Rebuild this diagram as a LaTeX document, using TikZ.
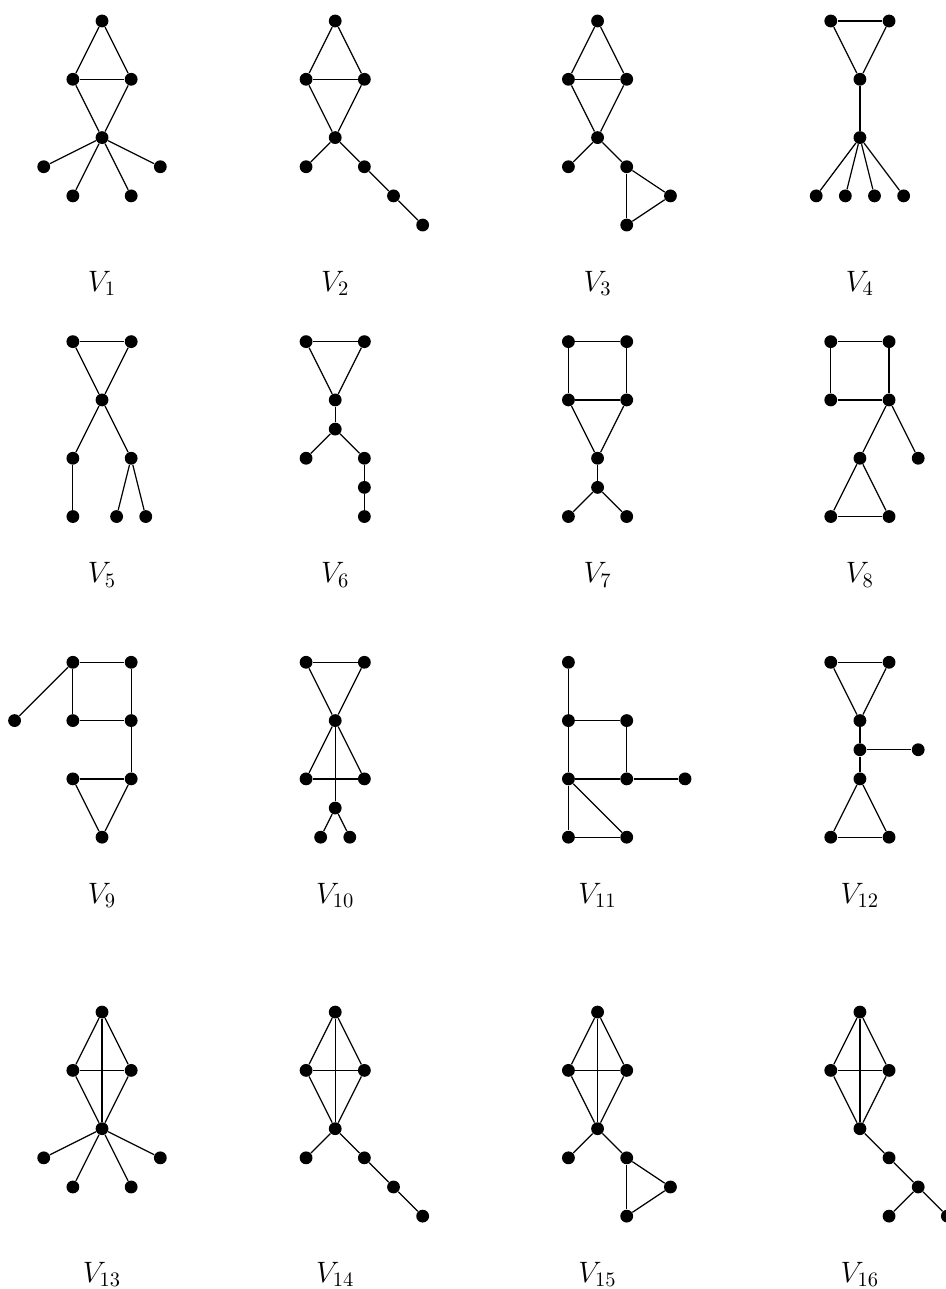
\documentclass[tikz,border=0pt]{standalone}
\usepackage{amssymb}

\begin{document}
\begin{tikzpicture}[x=0.5cm, y=0.5cm, every node/.style={circle, fill, inner sep=0pt, minimum size=2.2mm}, nome/.style={fill=none, font=\Large}]
	\useasboundingbox (0,0) rectangle (32.45,-44.22);

	% V1
	\begin{scope}[shift={(3.5,-0.72)}]
		\node (a1) at (0, 0) {};
		\node (a2) at (-1, -2) {};
		\node (a3) at (1, -2) {};
		\node (a4) at (0, -4) {};
		\node (a5) at (-2, -5) {};
		\node (a6) at (2, -5) {};
		\node (a7) at (-1, -6) {};
		\node (a8) at (1, -6) {};
		\node[nome] (v1) at (0, -9) {$V_1$};
		% Archi
		\draw[semithick] (a1) -- (a2);
		\draw[semithick] (a1) -- (a3);
		\draw[semithick] (a2) -- (a3);
		\draw[semithick] (a2) -- (a4);
		\draw[semithick] (a3) -- (a4);
		\draw[semithick] (a4) -- (a5);
		\draw[semithick] (a4) -- (a6);
		\draw[semithick] (a4) -- (a7);
		\draw[semithick] (a4) -- (a8);
	\end{scope}

	% V2
	\begin{scope}[shift={(11.5,-0.72)}]
		\node (b1) at (0, 0) {};
		\node (b2) at (-1, -2) {};
		\node (b3) at (1, -2) {};
		\node (b4) at (0, -4) {};
		\node (b5) at (-1, -5) {};
		\node (b6) at (1, -5) {};
		\node (b7) at (2, -6) {};
		\node (b8) at (3, -7) {};
		\node[nome] (v2) at (0, -9) {$V_2$};
		% Archi
		\draw[semithick] (b1) -- (b2);
		\draw[semithick] (b1) -- (b3);
		\draw[semithick] (b2) -- (b3);
		\draw[semithick] (b2) -- (b4);
		\draw[semithick] (b3) -- (b4);
		\draw[semithick] (b4) -- (b5);
		\draw[semithick] (b4) -- (b6);
		\draw[semithick] (b6) -- (b7);
		\draw[semithick] (b7) -- (b8);
	\end{scope}

	% V3
	\begin{scope}[shift={(20.5,-0.72)}]
		\node (c1) at (0, 0) {};
		\node (c2) at (-1, -2) {};
		\node (c3) at (1, -2) {};
		\node (c4) at (0, -4) {};
		\node (c5) at (-1, -5) {};
		\node (c6) at (1, -5) {};
		\node (c7) at (2.5, -6) {};
		\node (c8) at (1, -7) {};
		\node[nome] (v3) at (0, -9) {$V_3$};
		% Archi
		\draw[semithick] (c1) -- (c2);
		\draw[semithick] (c1) -- (c3);
		\draw[semithick] (c2) -- (c3);
		\draw[semithick] (c2) -- (c4);
		\draw[semithick] (c3) -- (c4);
		\draw[semithick] (c4) -- (c5);
		\draw[semithick] (c4) -- (c6);
		\draw[semithick] (c6) -- (c7);
		\draw[semithick] (c7) -- (c8);
		\draw[semithick] (c6) -- (c8);
	\end{scope}

	% V4
	\begin{scope}[shift={(29.5,-0.72)}]
		\node (d1) at (-1, 0) {};
		\node (d2) at (1, 0) {};
		\node (d3) at (0, -2) {};
		\node (d4) at (0, -4) {};
		\node (d5) at (-1.5, -6) {};
		\node (d6) at (-0.5, -6) {};
		\node (d7) at (0.5, -6) {};
		\node (d8) at (1.5, -6) {};
		\node[nome] (v4) at (0, -9) {$V_4$};
		% Archi
		\draw[semithick] (d1) -- (d2);
		\draw[semithick] (d1) -- (d3);
		\draw[semithick] (d2) -- (d3);
		\draw[semithick] (d3) -- (d4);
		\draw[semithick] (d4) -- (d5);
		\draw[semithick] (d4) -- (d6);
		\draw[semithick] (d4) -- (d7);
		\draw[semithick] (d4) -- (d8);
	\end{scope}

	% V5
	\begin{scope}[shift={(3.5,-11.72)}]
		\node (e1) at (-1, 0) {};
		\node (e2) at (1, 0) {};
		\node (e3) at (0, -2) {};
		\node (e4) at (-1, -4) {};
		\node (e5) at (1, -4) {};
		\node (e6) at (-1, -6) {};
		\node (e7) at (0.5, -6) {};
		\node (e8) at (1.5, -6) {};
		\node[nome] (v5) at (0, -8) {$V_5$};
		% Archi
		\draw[semithick] (e1) -- (e2);
		\draw[semithick] (e1) -- (e3);
		\draw[semithick] (e2) -- (e3);
		\draw[semithick] (e3) -- (e4);
		\draw[semithick] (e3) -- (e5);
		\draw[semithick] (e4) -- (e6);
		\draw[semithick] (e5) -- (e7);
		\draw[semithick] (e5) -- (e8);
	\end{scope}

	% V6
	\begin{scope}[shift={(11.5,-11.72)}]
		\node (f1) at (-1, 0) {};
		\node (f2) at (1, 0) {};
		\node (f3) at (0, -2) {};
		\node (f4) at (0, -3) {};
		\node (f5) at (-1, -4) {};
		\node (f6) at (1, -4) {};
		\node (f7) at (1, -5) {};
		\node (f8) at (1, -6) {};
		\node[nome] (v6) at (0, -8) {$V_6$};
		% Archi
		\draw[semithick] (f1) -- (f2);
		\draw[semithick] (f1) -- (f3);
		\draw[semithick] (f2) -- (f3);
		\draw[semithick] (f3) -- (f4);
		\draw[semithick] (f4) -- (f5);
		\draw[semithick] (f4) -- (f6);
		\draw[semithick] (f6) -- (f7);
		\draw[semithick] (f7) -- (f8);
	\end{scope}

	% V7
	\begin{scope}[shift={(20.5,-11.72)}]
		\node (g1) at (-1, 0) {};
		\node (g2) at (1, 0) {};
		\node (g3) at (-1, -2) {};
		\node (g4) at (1, -2) {};
		\node (g5) at (0, -4) {};
		\node (g6) at (0, -5) {};
		\node (g7) at (-1, -6) {};
		\node (g8) at (1, -6) {};
		\node[nome] (v7) at (0, -8) {$V_7$};
		% Archi
		\draw[semithick] (g1) -- (g2);
		\draw[semithick] (g1) -- (g3);
		\draw[semithick] (g2) -- (g4);
		\draw[semithick] (g3) -- (g4);
		\draw[semithick] (g3) -- (g5);
		\draw[semithick] (g4) -- (g5);
		\draw[semithick] (g5) -- (g6);
		\draw[semithick] (g6) -- (g7);
		\draw[semithick] (g6) -- (g8);
	\end{scope}

	% V8
	\begin{scope}[shift={(29.5,-11.72)}]
		\node (h1) at (-1, 0) {};
		\node (h2) at (1, 0) {};
		\node (h3) at (-1, -2) {};
		\node (h4) at (1, -2) {};
		\node (h5) at (0, -4) {};
		\node (h6) at (2, -4) {};
		\node (h7) at (-1, -6) {};
		\node (h8) at (1, -6) {};
		\node[nome] (v8) at (0, -8) {$V_8$};
		% Archi
		\draw[semithick] (h1) -- (h2);
		\draw[semithick] (h1) -- (h3);
		\draw[semithick] (h2) -- (h4);
		\draw[semithick] (h3) -- (h4);
		\draw[semithick] (h4) -- (h5);
		\draw[semithick] (h4) -- (h6);
		\draw[semithick] (h5) -- (h7);
		\draw[semithick] (h5) -- (h8);
		\draw[semithick] (h7) -- (h8);
	\end{scope}

	% V9
	\begin{scope}[shift={(3.5,-22.72)}]
		\node (i1) at (-1, 0) {};
		\node (i2) at (1, 0) {};
		\node (i3) at (-3, -2) {};
		\node (i4) at (-1, -2) {};
		\node (i5) at (1, -2) {};
		\node (i6) at (-1, -4) {};
		\node (i7) at (1, -4) {};
		\node (i8) at (0, -6) {};
		\node[nome] (v9) at (0, -8) {$V_9$};
		% Archi
		\draw[semithick] (i1) -- (i2);
		\draw[semithick] (i1) -- (i3);
		\draw[semithick] (i1) -- (i4);
		\draw[semithick] (i2) -- (i5);
		\draw[semithick] (i4) -- (i5);
		\draw[semithick] (i5) -- (i7);
		\draw[semithick] (i6) -- (i7);
		\draw[semithick] (i6) -- (i8);
		\draw[semithick] (i7) -- (i8);
	\end{scope}

	% V10
	\begin{scope}[shift={(11.5,-22.72)}]
		\node (j1) at (-1, 0) {};
		\node (j2) at (1, 0) {};
		\node (j3) at (0, -2) {};
		\node (j4) at (-1, -4) {};
		\node (j5) at (1, -4) {};
		\node (j6) at (0, -5) {};
		\node (j7) at (-0.5, -6) {};
		\node (j8) at (0.5, -6) {};
		\node[nome] (v10) at (0, -8) {$V_{10}$};
		% Archi
		\draw[semithick] (j1) -- (j2);
		\draw[semithick] (j1) -- (j3);
		\draw[semithick] (j2) -- (j3);
		\draw[semithick] (j3) -- (j4);
		\draw[semithick] (j3) -- (j5);
		\draw[semithick] (j4) -- (j5);
		\draw[semithick] (j3) -- (j6);
		\draw[semithick] (j6) -- (j7);
		\draw[semithick] (j6) -- (j8);
	\end{scope}

	% V11
	\begin{scope}[shift={(20.5,-22.72)}]
		\node (k1) at (-1, 0) {};
		\node (k2) at (-1, -2) {};
		\node (k3) at (1, -2) {};
		\node (k4) at (-1, -4) {};
		\node (k5) at (1, -4) {};
		\node (k6) at (3, -4) {};
		\node (k7) at (-1, -6) {};
		\node (k8) at (1, -6) {};
		\node[nome] (v11) at (0, -8) {$V_{11}$};
		% Archi
		\draw[semithick] (k1) -- (k2);
		\draw[semithick] (k2) -- (k3);
		\draw[semithick] (k2) -- (k4);
		\draw[semithick] (k3) -- (k5);
		\draw[semithick] (k4) -- (k5);
		\draw[semithick] (k5) -- (k6);
		\draw[semithick] (k4) -- (k7);
		\draw[semithick] (k4) -- (k8);
		\draw[semithick] (k7) -- (k8);
	\end{scope}

	% V12
	\begin{scope}[shift={(29.5,-22.72)}]
		\node (l1) at (-1, 0) {};
		\node (l2) at (1, 0) {};
		\node (l3) at (0, -2) {};
		\node (l4) at (0, -3) {};
		\node (l5) at (2, -3) {};
		\node (l6) at (0, -4) {};
		\node (l7) at (-1, -6) {};
		\node (l8) at (1, -6) {};
		\node[nome] (v12) at (0, -8) {$V_{12}$};
		% Archi
		\draw[semithick] (l1) -- (l2);
		\draw[semithick] (l1) -- (l3);
		\draw[semithick] (l2) -- (l3);
		\draw[semithick] (l3) -- (l4);
		\draw[semithick] (l4) -- (l5);
		\draw[semithick] (l4) -- (l6);
		\draw[semithick] (l6) -- (l7);
		\draw[semithick] (l6) -- (l8);
		\draw[semithick] (l7) -- (l8);
	\end{scope}

	% V13
	\begin{scope}[shift={(3.5,-34.72)}]
		\node (m1) at (0, 0) {};
		\node (m2) at (-1, -2) {};
		\node (m3) at (1, -2) {};
		\node (m4) at (0, -4) {};
		\node (m5) at (-2, -5) {};
		\node (m6) at (2, -5) {};
		\node (m7) at (-1, -6) {};
		\node (m8) at (1, -6) {};
		\node[nome] (v13) at (0, -9) {$V_{13}$};
		% Archi
		\draw[semithick] (m1) -- (m2);
		\draw[semithick] (m1) -- (m3);
		\draw[semithick] (m1) -- (m4);
		\draw[semithick] (m2) -- (m3);
		\draw[semithick] (m2) -- (m4);
		\draw[semithick] (m3) -- (m4);
		\draw[semithick] (m4) -- (m5);
		\draw[semithick] (m4) -- (m6);
		\draw[semithick] (m4) -- (m7);
		\draw[semithick] (m4) -- (m8);
	\end{scope}

	% V14
	\begin{scope}[shift={(11.5,-34.72)}]
		\node (n1) at (0, 0) {};
		\node (n2) at (-1, -2) {};
		\node (n3) at (1, -2) {};
		\node (n4) at (0, -4) {};
		\node (n5) at (-1, -5) {};
		\node (n6) at (1, -5) {};
		\node (n7) at (2, -6) {};
		\node (n8) at (3, -7) {};
		\node[nome] (v14) at (0, -9) {$V_{14}$};
		% Archi
		\draw[semithick] (n1) -- (n2);
		\draw[semithick] (n1) -- (n3);
		\draw[semithick] (n1) -- (n4);
		\draw[semithick] (n2) -- (n3);
		\draw[semithick] (n2) -- (n4);
		\draw[semithick] (n3) -- (n4);
		\draw[semithick] (n4) -- (n5);
		\draw[semithick] (n4) -- (n6);
		\draw[semithick] (n6) -- (n7);
		\draw[semithick] (n7) -- (n8);
	\end{scope}

	% V15
	\begin{scope}[shift={(20.5,-34.72)}]
		\node (o1) at (0, 0) {};
		\node (o2) at (-1, -2) {};
		\node (o3) at (1, -2) {};
		\node (o4) at (0, -4) {};
		\node (o5) at (-1, -5) {};
		\node (o6) at (1, -5) {};
		\node (o7) at (2.5, -6) {};
		\node (o8) at (1, -7) {};
		\node[nome] (v15) at (0, -9) {$V_{15}$};
		% Archi
		\draw[semithick] (o1) -- (o2);
		\draw[semithick] (o1) -- (o3);
		\draw[semithick] (o1) -- (o4);
		\draw[semithick] (o2) -- (o3);
		\draw[semithick] (o2) -- (o4);
		\draw[semithick] (o3) -- (o4);
		\draw[semithick] (o4) -- (o5);
		\draw[semithick] (o4) -- (o6);
		\draw[semithick] (o6) -- (o7);
		\draw[semithick] (o7) -- (o8);
		\draw[semithick] (o6) -- (o8);
	\end{scope}

	% V16
	\begin{scope}[shift={(29.5,-34.72)}]
		\node (p1) at (0, 0) {};
		\node (p2) at (-1, -2) {};
		\node (p3) at (1, -2) {};
		\node (p4) at (0, -4) {};
		\node (p5) at (1, -5) {};
		\node (p6) at (2, -6) {};
		\node (p7) at (1, -7) {};
		\node (p8) at (3, -7) {};
		\node[nome] (v16) at (0, -9) {$V_{16}$};
		% Archi
		\draw[semithick] (p1) -- (p2);
		\draw[semithick] (p1) -- (p3);
		\draw[semithick] (p1) -- (p4);
		\draw[semithick] (p2) -- (p3);
		\draw[semithick] (p2) -- (p4);
		\draw[semithick] (p3) -- (p4);
		\draw[semithick] (p4) -- (p5);
		\draw[semithick] (p5) -- (p6);
		\draw[semithick] (p6) -- (p7);
		\draw[semithick] (p6) -- (p8);
	\end{scope}
\end{tikzpicture}
\end{document}
